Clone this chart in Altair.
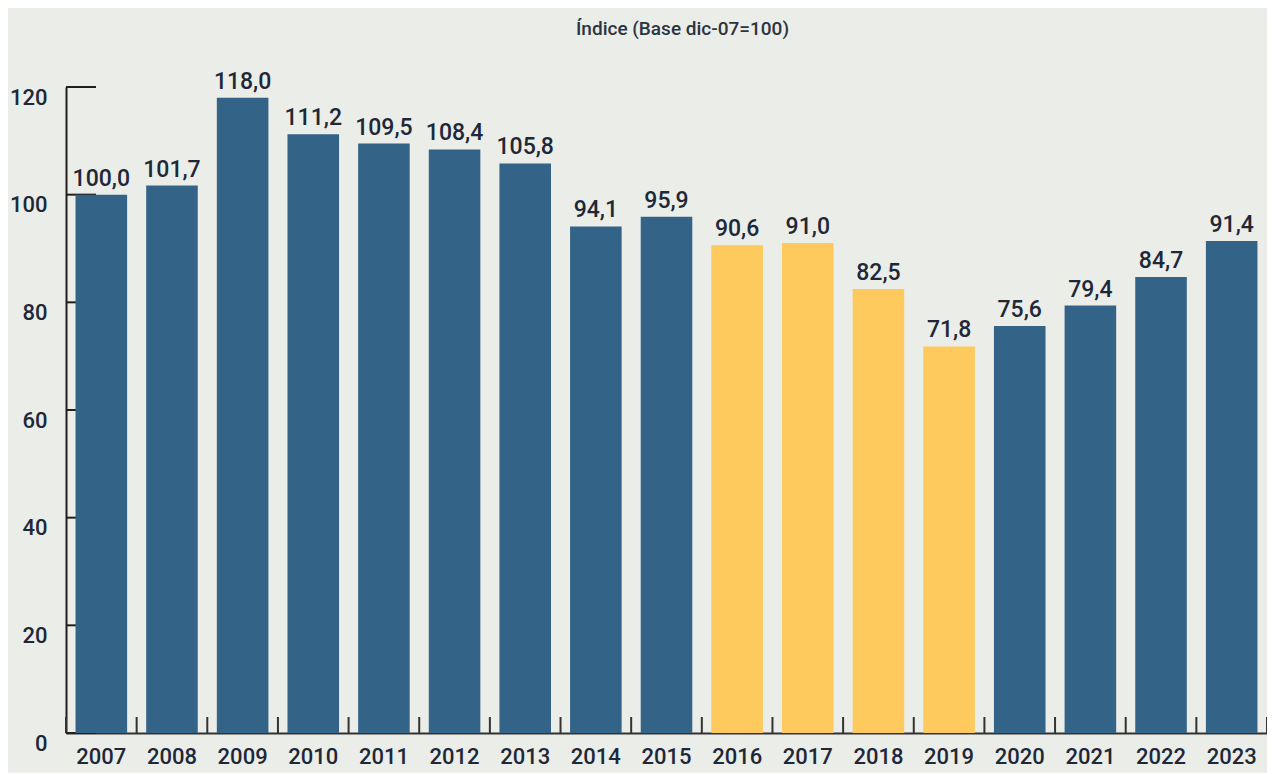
import altair as alt
import pandas as pd

# ---- data ----
years = ["2007", "2008", "2009", "2010", "2011", "2012", "2013", "2014", "2015",
         "2016", "2017", "2018", "2019", "2020", "2021", "2022", "2023"]
values = [100.0, 101.7, 118.0, 111.2, 109.5, 108.4, 105.8, 94.1, 95.9,
          90.6, 91.0, 82.5, 71.8, 75.6, 79.4, 84.7, 91.4]
highlight_years = ["2016", "2017", "2018", "2019"]
y_ticks = [0, 20, 40, 60, 80, 100, 120]
title_text = "Índice (Base dic-07=100)"

BLUE = "#346388"
YELLOW = "#FEC95D"
BG = "#EBEDE8"
TEXT = "#1E2838"
AXIS = "#231F20"
FONT = "Roboto"

W, H = 1201, 646
N = len(years)
P_INNER = 0.27
P_OUTER = P_INNER / 2
STEP = W / (N - P_INNER + 2 * P_OUTER)

df = pd.DataFrame({
    "year": years,
    "value": values,
    "grp": ["hl" if y in highlight_years else "base" for y in years],
    "label": [f"{v:.1f}".replace(".", ",") for v in values],
})
ticks_df = pd.DataFrame({"value": y_ticks})
last_df = df[df["year"] == years[-1]]

x_scale = alt.Scale(domain=years, paddingInner=P_INNER, paddingOuter=P_OUTER)
y_scale = alt.Scale(domain=[0, 120], nice=False, zero=True)

x_axis = alt.Axis(title=None, ticks=False, tickSize=0, labelAngle=0, labelFont=FONT,
                  labelFontSize=22, labelFontWeight=500, labelColor=TEXT, labelPadding=13,
                  domainColor="#333333", domainWidth=2)
y_axis = alt.Axis(title=None, values=y_ticks, ticks=False, tickSize=0, grid=False,
                  labelFont=FONT, labelFontSize=22, labelFontWeight=500, labelColor=TEXT,
                  labelPadding=19, labelBaseline="top", domainColor=AXIS, domainWidth=2)

X = alt.X("year:N", scale=x_scale, axis=x_axis, sort=years)
Y = alt.Y("value:Q", scale=y_scale, axis=y_axis)

ytick_rules = alt.Chart(ticks_df).mark_rule(color=AXIS, strokeWidth=2).encode(
    y=Y, x=alt.value(0), x2=alt.value(30)
)

bars = alt.Chart(df).mark_bar().encode(
    x=X, y=Y,
    color=alt.Color("grp:N", scale=alt.Scale(domain=["base", "hl"], range=[BLUE, YELLOW]), legend=None),
)

xtick_rules = alt.Chart(df).mark_rule(color="#333333", strokeWidth=2, xOffset=-STEP / 2).encode(
    x=X, y=alt.value(H - 16), y2=alt.value(H)
)
xtick_last = alt.Chart(last_df).mark_rule(color="#333333", strokeWidth=2, xOffset=STEP / 2).encode(
    x=X, y=alt.value(H - 16), y2=alt.value(H)
)

labels = alt.Chart(df).mark_text(dy=-9, baseline="alphabetic", font=FONT, fontSize=23,
                                  fontWeight=500, color=TEXT).encode(
    x=X, y=Y, text="label:N"
)

chart = alt.layer(ytick_rules, xtick_rules, xtick_last, bars, labels).properties(
    width=W, height=H,
    title=alt.TitleParams(title_text, font=FONT, fontSize=19, fontWeight=500, color="#2B3441",
                          anchor="middle", dx=16, offset=32),
    background=BG,
    autosize=alt.AutoSizeParams(type="none"),
    padding={"left": 58, "top": 79, "right": 0, "bottom": 40},
).configure_view(stroke=None)

chart.save("out.html", embed_options={"renderer": "svg", "actions": False})
